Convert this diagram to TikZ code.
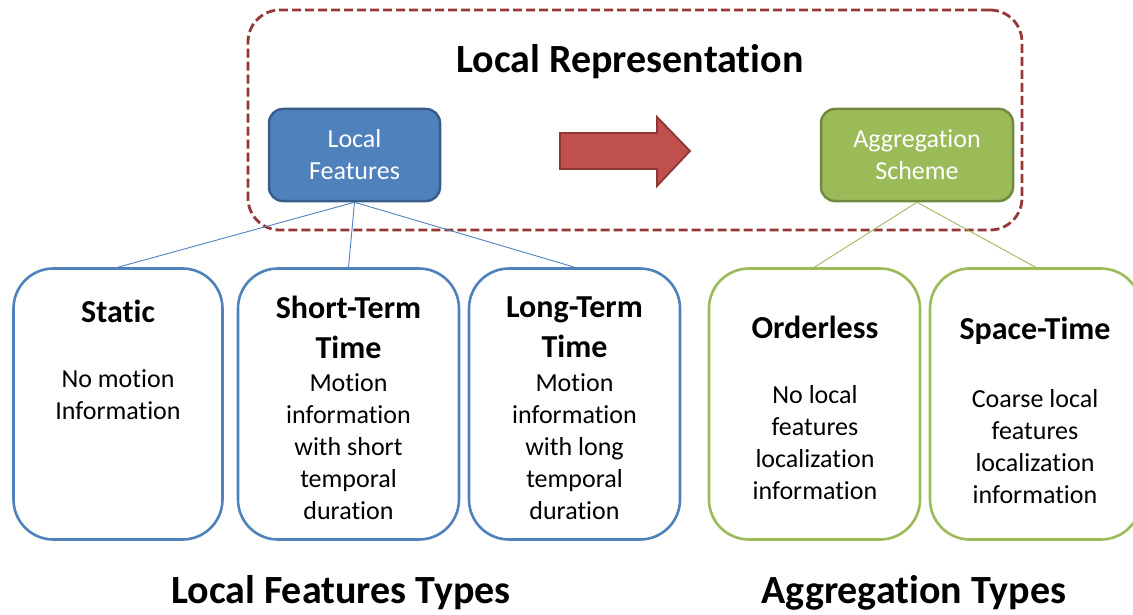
\documentclass[tikz,border=0pt]{standalone}
\usepackage{fontspec}
\setmainfont[Ligatures={NoCommon}]{Carlito}
\usetikzlibrary{positioning}
\definecolor{lfblue}{HTML}{4F81BD}
\definecolor{lfblueedge}{HTML}{385D8A}
\definecolor{aggreen}{HTML}{9BBB59}
\definecolor{aggreenedge}{HTML}{71893F}
\definecolor{frame}{HTML}{953735}
\definecolor{arrowred}{HTML}{C0504D}
\definecolor{arrowedge}{HTML}{8C3836}
\tikzset{
  x=1pt, y=-1pt,
  headbox/.style={draw, line width=2.5pt, rounded corners=14pt, minimum width=171pt,
    minimum height=92pt, text=white, align=center, font=\fontsize{26}{32}\selectfont},
  typebox/.style={draw, line width=2.6pt, rounded corners=40pt, minimum width=209pt,
    minimum height=271pt},
  typetitle/.style={align=center, font=\fontsize{32}{40}\selectfont\bfseries},
  typebody/.style={align=center, font=\fontsize{26}{32}\selectfont},
  bigtitle/.style={font=\fontsize{40}{48}\selectfont\bfseries},
  link/.style={line width=0.9pt},
}
\begin{document}
\begin{tikzpicture}
\useasboundingbox (0,0) rectangle (1133,615);

% dashed frame around the local representation
\node[draw=frame, line width=2.8pt, dash pattern=on 9pt off 4pt, rounded corners=32pt,
  minimum width=774pt, minimum height=220pt] (frame) at (635,120) {};
\node[bigtitle] (title) at (630,62) {Local Representation};

% top-level boxes
\node[headbox, fill=lfblue, draw=lfblueedge] (lf) at (354.5,155) {Local\\Features};
\node[headbox, fill=aggreen, draw=aggreenedge, minimum width=192pt] (ag) at (917,155) {Aggregation\\Scheme};

% block arrow between them
\filldraw[fill=arrowred, draw=arrowedge, line width=1.8pt]
  (560,133) -- (657,133) -- (657,117) -- (690,151) -- (657,186) -- (657,169) -- (560,169) -- cycle;

% local feature types
\node[typebox, draw=lfblue] (static) at (118,404) {};
\node[typebox, draw=lfblue, minimum width=221pt] (short) at (348.5,404) {};
\node[typebox, draw=lfblue, minimum width=211pt] (long) at (574.5,404) {};

% aggregation types
\node[typebox, draw=aggreen, minimum width=211pt] (orderless) at (814.5,404) {};
\node[typebox, draw=aggreen, minimum width=211pt] (spacetime) at (1035.5,404) {};

% connectors
\draw[link, lfblue] (lf.south) -- (static.north);
\draw[link, lfblue] (lf.south) -- (short.north);
\draw[link, lfblue] (lf.south) -- (long.north);
\draw[link, aggreen] (ag.south) -- (orderless.north);
\draw[link, aggreen] (ag.south) -- (spacetime.north);

% box contents
\node[typetitle] (statict) at (118,311) {Static};
\node[typebody] (staticb) at (118,395) {No motion\\Information};

\node[typetitle] (shortt) at (348.5,327) {Short-Term\\Time};
\node[typebody] (shortb) at (348.5,447) {Motion\\information\\with short\\temporal\\duration};

\node[typetitle] (longt) at (574.5,327) {Long-Term\\Time};
\node[typebody] (longb) at (574.5,447) {Motion\\information\\with long\\temporal\\duration};

\node[typetitle] (ordert) at (815,327) {Orderless};
\node[typebody] (orderb) at (815,443) {No local\\features\\localization\\information};

\node[typetitle] (spacet) at (1035,331) {Space-Time};
\node[typebody] (spaceb) at (1035,447) {Coarse local\\features\\localization\\information};

% group captions
\node[bigtitle] (lftypes) at (341,593) {Local Features Types};
\node[bigtitle] (agtypes) at (914,593) {Aggregation Types};
\end{tikzpicture}
\end{document}
